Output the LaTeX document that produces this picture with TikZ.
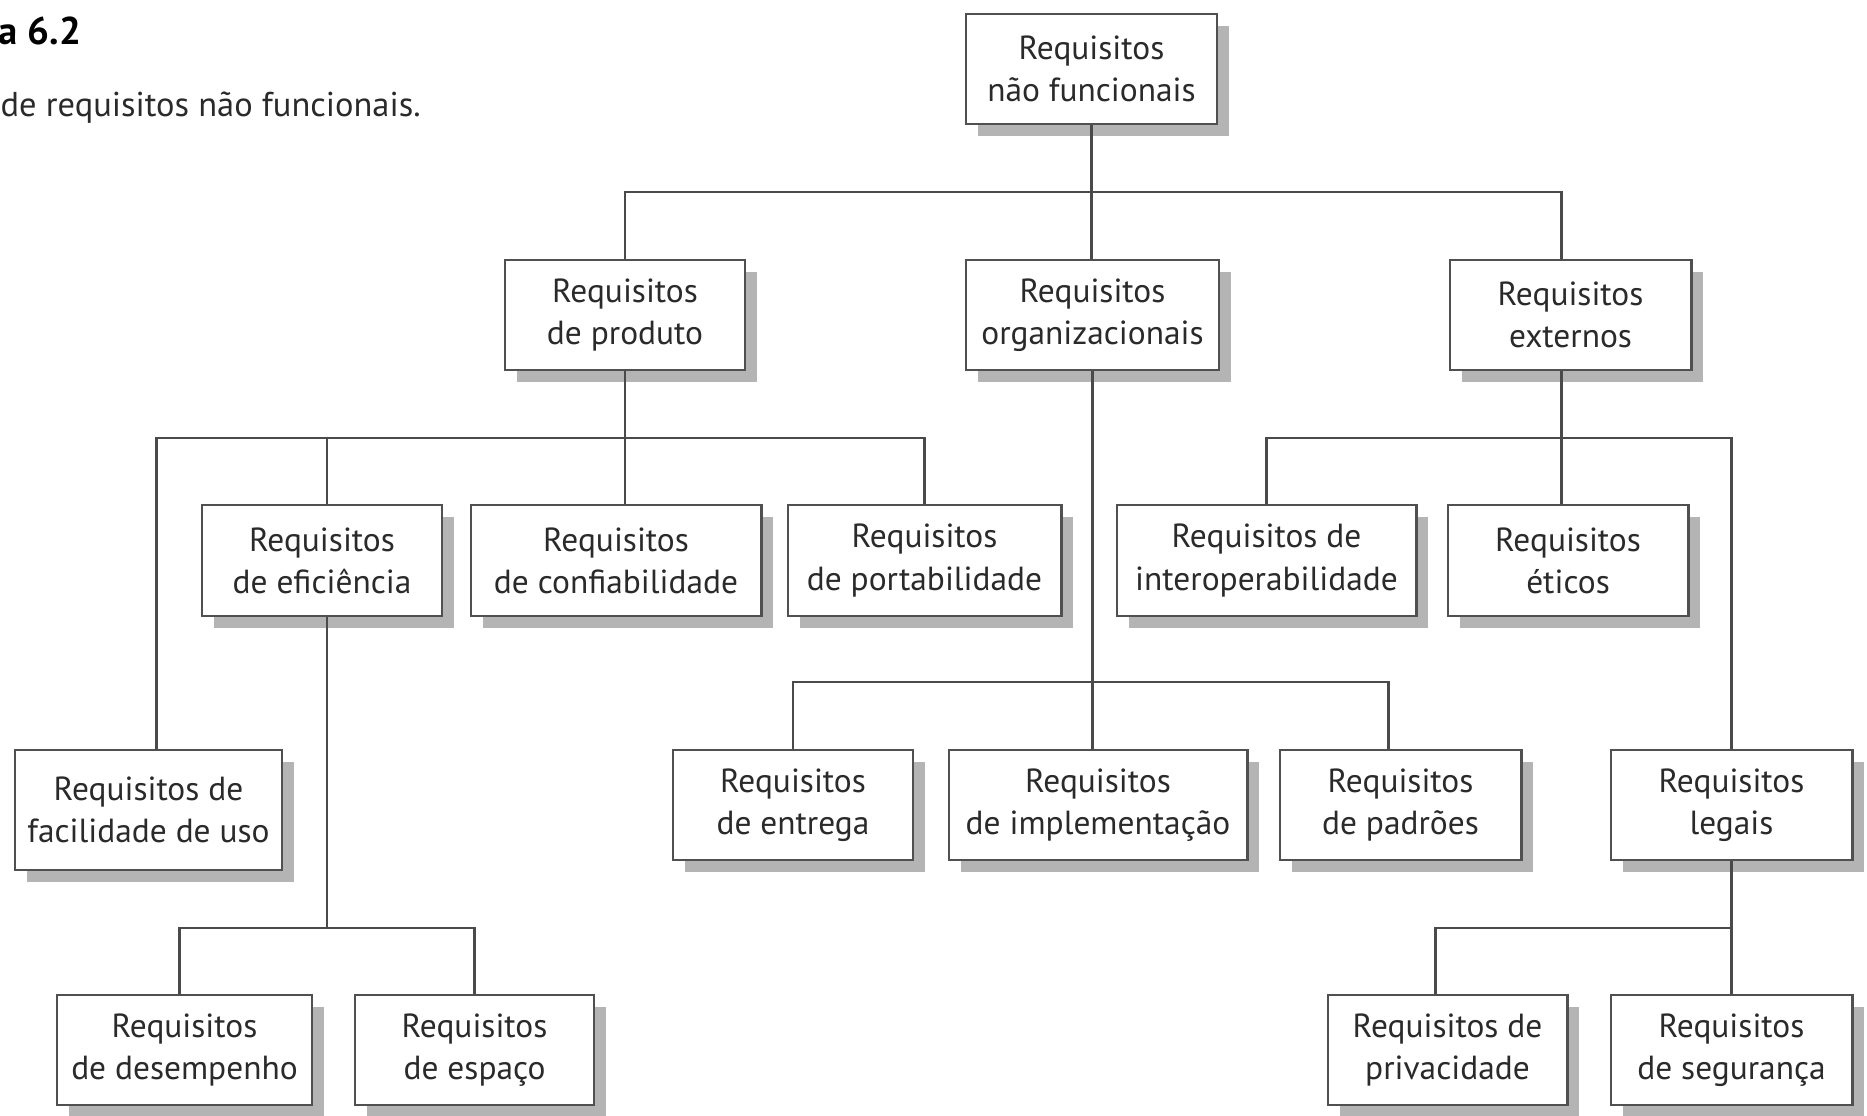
\documentclass[tikz,border=0pt]{standalone}
\usepackage{fontspec}
\setmainfont{PT Sans}
\usepackage{tikz}
\usetikzlibrary{positioning, calc, shadows}
\definecolor{BoxGray}{HTML}{505050}
\definecolor{ShadowGray}{HTML}{B4B4B4}
\definecolor{LineGray}{HTML}{4A4A4A}
\definecolor{InkGray}{HTML}{2A2A2A}

\begin{document}
\begin{tikzpicture}[
    x=0.01cm, y=-0.01cm,
    req/.style={rectangle, draw=BoxGray, line width=0.8pt, fill=white, minimum height=1.1cm,
                inner sep=0pt, align=center, text=InkGray, font=\fontsize{9.5}{12}\selectfont,
                drop shadow={shadow xshift=0.12cm, shadow yshift=-0.12cm, fill=ShadowGray, opacity=1}},
    link/.style={draw=LineGray, line width=0.6pt}
]
    \useasboundingbox (0,0) rectangle (1867,1116);

    % Caption
    \node[anchor=base west, inner sep=0pt, font=\fontsize{11}{13}\selectfont\bfseries] (fig) at (-2,45) {a 6.2};
    \node[anchor=base west, inner sep=0pt, text=InkGray, font=\fontsize{9.8}{12}\selectfont] (caption) at (0,117) {de requisitos não funcionais.};

    % Top level
    \node[req, minimum width=2.51cm] (root) at (1091.5,69) {Requisitos\\não funcionais};

    % Second level
    \node[req, minimum width=2.40cm] (prod) at (625,315) {Requisitos\\de produto};
    \node[req, minimum width=2.53cm] (org) at (1092.5,315) {Requisitos\\organizacionais};
    \node[req, minimum width=2.41cm] (ext) at (1570.5,315) {Requisitos\\externos};

    % Product requirements
    \node[req, minimum width=2.40cm, minimum height=1.11cm] (efic) at (322,560.5) {Requisitos\\de eficiência};
    \node[req, minimum width=2.90cm, minimum height=1.11cm] (conf) at (616,560.5) {Requisitos\\de confiabilidade};
    \node[req, minimum width=2.73cm, minimum height=1.11cm] (port) at (924.5,560.5) {Requisitos\\de portabilidade};
    \node[req, minimum width=2.67cm, minimum height=1.2cm] (facil) at (148.5,810) {Requisitos de\\facilidade de uso};
    \node[req, minimum width=2.55cm] (desemp) at (184.5,1050) {Requisitos\\de desempenho};
    \node[req, minimum width=2.39cm] (espaco) at (474.5,1050) {Requisitos\\de espaço};

    % Organizational requirements
    \node[req, minimum width=2.40cm] (entr) at (793,805) {Requisitos\\de entrega};
    \node[req, minimum width=2.98cm] (impl) at (1098,805) {Requisitos\\de implementação};
    \node[req, minimum width=2.41cm] (padr) at (1400.5,805) {Requisitos\\de padrões};

    % External requirements
    \node[req, minimum width=2.99cm, minimum height=1.11cm] (inter) at (1266.5,560.5) {Requisitos de\\interoperabilidade};
    \node[req, minimum width=2.40cm, minimum height=1.11cm] (etic) at (1568,560.5) {Requisitos\\éticos};
    \node[req, minimum width=2.41cm] (legal) at (1731.5,805) {Requisitos\\legais};
    \node[req, minimum width=2.39cm] (priv) at (1447.5,1050) {Requisitos de\\privacidade};
    \node[req, minimum width=2.41cm] (segur) at (1731.5,1050) {Requisitos\\de segurança};

    % Bus lines and branch points
    \coordinate (busA) at (0,192);
    \coordinate (busB) at (0,438);
    \coordinate (busC) at (0,928);
    \coordinate (busD) at (0,682);
    \coordinate (extTop) at ([xshift=-0.09cm]ext.north);
    \coordinate (extBot) at ([xshift=-0.09cm]ext.south);
    \coordinate (facilTop) at ([xshift=0.08cm]facil.north);
    \coordinate (eficTop) at ([xshift=0.05cm]efic.north);
    \coordinate (eficBot) at ([xshift=0.05cm]efic.south);
    \coordinate (desempTop) at ([xshift=-0.05cm]desemp.north);
    \coordinate (padrTop) at ([xshift=-0.12cm]padr.north);
    \coordinate (privTop) at ([xshift=-0.12cm]priv.north);

    % Connectors
    \draw[link] (root.south) -- (root.south |- org.north);
    \draw[link] (prod.north) |- (busA -| extTop) -- (extTop);

    \draw[link] (prod.south) -- (prod.south |- conf.north);
    \draw[link] (facilTop) |- (busB -| port.north) -- (port.north);
    \draw[link] (eficTop) -- (eficTop |- busB);
    \draw[link] (eficBot) -- (eficBot |- busC);
    \draw[link] (desempTop) |- (busC -| espaco.north) -- (espaco.north);

    \draw[link] (org.south) -- (org.south |- impl.north);
    \draw[link] (entr.north) |- (busD -| padrTop) -- (padrTop);

    \draw[link] (extBot) -- (extBot |- etic.north);
    \draw[link] (inter.north) |- (busB -| legal.north) -- (legal.north);
    \draw[link] (legal.south) -- (segur.north);
    \draw[link] (privTop) |- (legal.south |- busC);
\end{tikzpicture}
\end{document}
